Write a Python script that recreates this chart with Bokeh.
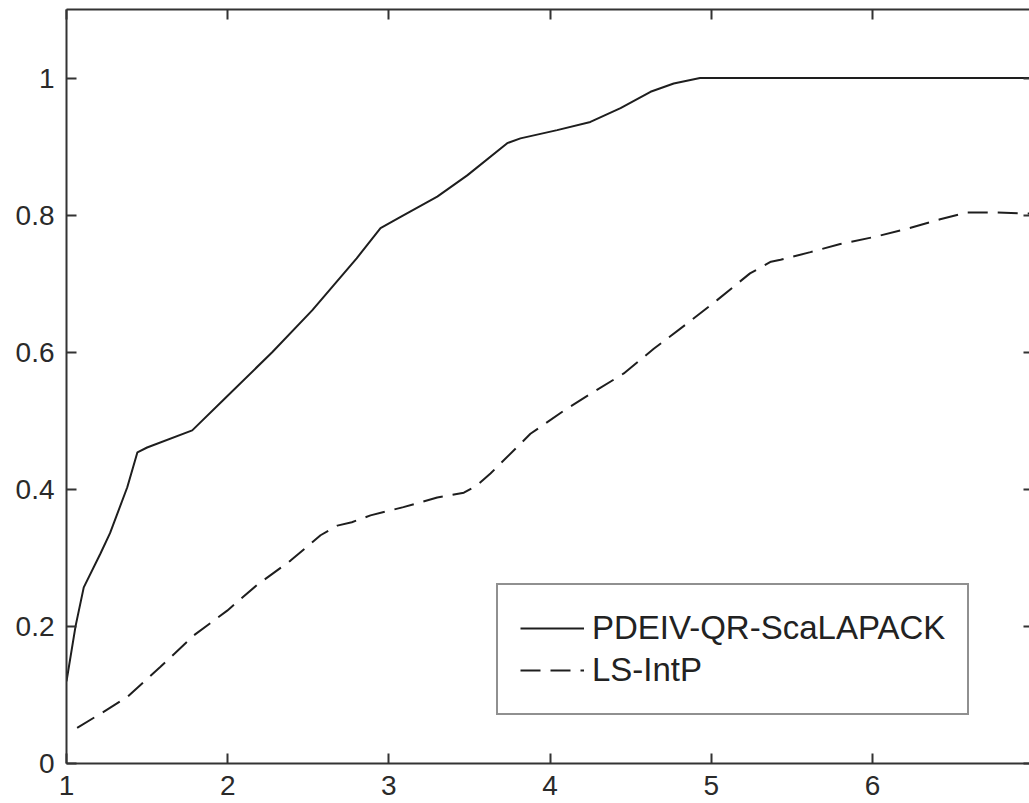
from bokeh.plotting import figure
from bokeh.models import Range1d, LinearAxis, FixedTicker, Legend, LegendItem
from bokeh.embed import file_html
from bokeh.resources import INLINE

# --- data ---
qr_x = [1.0, 1.056, 1.107, 1.21, 1.27, 1.377, 1.44, 1.50, 1.78, 1.976, 2.276, 2.524,
        2.658, 2.80, 2.948, 3.07, 3.30, 3.486, 3.734, 3.816, 4.044, 4.25, 4.437,
        4.623, 4.767, 4.93, 7.0]
qr_y = [0.12, 0.20, 0.257, 0.306, 0.336, 0.403, 0.454, 0.461, 0.486, 0.531, 0.600, 0.661,
        0.698, 0.737, 0.781, 0.797, 0.827, 0.858, 0.905, 0.912, 0.924, 0.936, 0.956,
        0.980, 0.992, 1.0, 1.0]

ls_x = [1.066, 1.21, 1.377, 1.583, 1.79, 1.997, 2.18, 2.39, 2.576, 2.68, 2.77, 2.886,
        3.09, 3.30, 3.465, 3.548, 3.63, 3.878, 4.106, 4.27, 4.457, 4.643, 4.85, 5.036,
        5.24, 5.37, 5.43, 5.615, 5.80, 6.008, 6.215, 6.42, 6.59, 6.75, 7.0]
ls_y = [0.052, 0.0725, 0.097, 0.141, 0.187, 0.223, 0.26, 0.296, 0.333, 0.347, 0.352, 0.362,
        0.374, 0.388, 0.395, 0.406, 0.423, 0.481, 0.518, 0.542, 0.569, 0.605, 0.642, 0.676,
        0.715, 0.732, 0.735, 0.746, 0.758, 0.768, 0.78, 0.794, 0.804, 0.804, 0.802]

series_names = ["PDEIV-QR-ScaLAPACK", "LS-IntP"]
x_ticks = [1, 2, 3, 4, 5, 6, 7]
y_ticks = [0, 0.2, 0.4, 0.6, 0.8, 1]
y_tick_labels = {0: "0", 1: "1"}

FONT = "Liberation Sans"
AX = "#333333"
LINE = "#1e1e1e"

p = figure(width=1029, height=803, output_backend="svg", toolbar_location=None,
           x_range=Range1d(1, 6.974), y_range=Range1d(0, 1.1),
           x_axis_location=None, y_axis_location=None,
           min_border_left=66, min_border_top=9, min_border_bottom=40, min_border_right=0)
p.outline_line_color = None
p.xgrid.visible = False
p.ygrid.visible = False
p.background_fill_color = "white"
p.border_fill_color = "white"


def style(ax, show_labels=True, tick_in=10, line=True):
    ax.axis_line_color = AX if line else None
    ax.axis_line_width = 2
    ax.major_tick_line_color = AX
    ax.major_tick_line_width = 2
    ax.major_tick_in = tick_in
    ax.major_tick_out = 0
    ax.minor_tick_line_color = None
    if show_labels:
        ax.major_label_text_font = FONT
        ax.major_label_text_font_size = "28px"
        ax.major_label_text_color = "#2a2a2a"
        ax.major_label_standoff = 12
    else:
        # mirrored box ticks only (as in the reference): no labels drawn
        ax.major_label_text_color = None
        ax.major_label_text_font_size = "1px"
        ax.major_label_standoff = 0


bottom = LinearAxis(ticker=FixedTicker(ticks=x_ticks))
style(bottom)
p.add_layout(bottom, "below")

left = LinearAxis(ticker=FixedTicker(ticks=y_ticks), major_label_overrides=y_tick_labels)
style(left)
p.add_layout(left, "left")

top = LinearAxis(ticker=FixedTicker(ticks=x_ticks))
style(top, show_labels=False)
p.add_layout(top, "above")

right = LinearAxis(ticker=FixedTicker(ticks=y_ticks))
style(right, show_labels=False, tick_in=6, line=False)
p.add_layout(right, "right")

r1 = p.line(qr_x, qr_y, line_color=LINE, line_width=2)
r2 = p.line(ls_x, ls_y, line_color=LINE, line_width=2, line_dash="20 10")

legend = Legend(items=[LegendItem(label=series_names[0], renderers=[r1]),
                       LegendItem(label=series_names[1], renderers=[r2])],
                location=(430, 48), orientation="vertical",
                padding=22, spacing=0, margin=0,
                glyph_width=64, glyph_height=42, label_height=42,
                label_standoff=8, label_text_baseline="alphabetic",
                label_text_font=FONT, label_text_font_size="33px",
                label_text_color="#222222",
                border_line_color="#222222", border_line_width=2,
                background_fill_color="white", background_fill_alpha=1.0)
p.add_layout(legend, "center")

open("out.html", "w").write(file_html(p, INLINE))
